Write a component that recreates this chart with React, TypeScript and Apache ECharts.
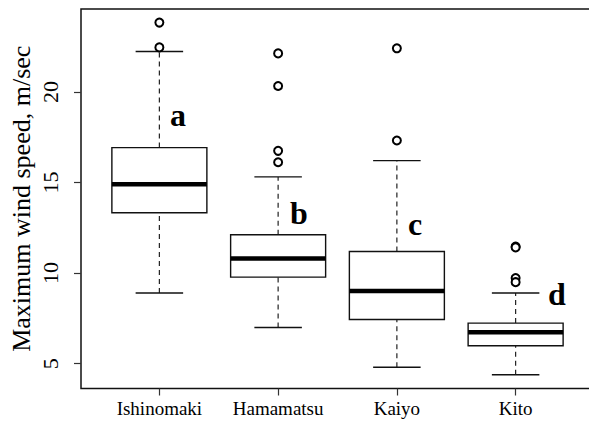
import React, { useEffect, useRef } from "react";
import * as echarts from "echarts";

const categories = ["Ishinomaki", "Hamamatsu", "Kaiyo", "Kito"];
const lowerWhisker = [8.9, 7.0, 4.8, 4.39];
const q1 = [13.33, 9.78, 7.44, 5.99];
const median = [14.91, 10.81, 9.01, 6.73];
const q3 = [16.93, 12.12, 11.19, 7.24];
const upperWhisker = [22.23, 15.31, 16.21, 8.9];
const outliers: [number, number][] = [
  [1, 23.83], [1, 22.46],
  [2, 22.13], [2, 20.33], [2, 16.75], [2, 16.12],
  [3, 22.41], [3, 17.32],
  [4, 11.47], [4, 11.42], [4, 9.73], [4, 9.5],
];
const letters: [number, number, string][] = [
  [1.157, 18.73, "a"],
  [2.174, 13.33, "b"],
  [3.154, 12.72, "c"],
  [4.348, 8.86, "d"],
];
const yTicks = [5, 10, 15, 20];
const xTicks = [1, 2, 3, 4];

const FONT = "Liberation Serif";
const BOX_WIDTH = 0.8;

export default function App() {
  const ref = useRef<HTMLDivElement>(null);
  useEffect(() => {
    if (!ref.current) return;
    const chart = echarts.init(ref.current, null, { renderer: "svg" });
    const boxData = categories.map((_, i) => [
      i + 1, lowerWhisker[i], q1[i], median[i], q3[i], upperWhisker[i],
    ]);
    chart.setOption({
      animation: false,
      backgroundColor: "#fff",
      textStyle: { fontFamily: FONT, color: "#000" },
      grid: {
        left: 81, top: 9, width: 513, height: 379.5,
        containLabel: false,
        outerBoundsMode: "none",
        show: true, borderColor: "#111", borderWidth: 1.5,
        backgroundColor: "transparent",
      },
      xAxis: {
        type: "value",
        min: 0.34,
        max: 4.66,
        splitLine: { show: false },
        axisLine: { show: false },
        axisTick: { show: true, length: 7, customValues: xTicks, lineStyle: { color: "#333", width: 1.2 } },
        axisLabel: {
          customValues: xTicks,
          formatter: (v: number) => "{s|" + (categories[Math.round(v) - 1] ?? "") + "}",
          rich: { s: { fontFamily: FONT, fontSize: 19, color: "#000" } },
          fontFamily: FONT, fontSize: 19, color: "#000", margin: 10,
        },
      },
      yAxis: {
        type: "value",
        min: 3.63,
        max: 24.58,
        name: "Maximum wind speed, m/sec",
        nameLocation: "middle",
        nameGap: 47,
        nameMoveOverlap: false,
        nameRotate: 90,
        nameTextStyle: { fontFamily: FONT, fontSize: 26, color: "#000" },
        splitLine: { show: false },
        axisLine: { show: false },
        axisTick: { show: true, length: 7, customValues: yTicks, lineStyle: { color: "#333", width: 1.2 } },
        axisLabel: {
          customValues: yTicks,
          rotate: 90,
          formatter: (v: number) => "{s|" + v + "}",
          rich: { s: { fontFamily: FONT, fontSize: 22, color: "#000" } },
          fontFamily: FONT, fontSize: 22, color: "#000", margin: 20,
        },
      },
      series: [
        {
          type: "custom",
          data: boxData,
          encode: { x: 0, y: [1, 2, 3, 4, 5] },
          renderItem: (_params: any, api: any) => {
            const x = api.value(0);
            const lo = api.coord([x, api.value(1)]);
            const b1 = api.coord([x, api.value(2)]);
            const md = api.coord([x, api.value(3)]);
            const b3 = api.coord([x, api.value(4)]);
            const hi = api.coord([x, api.value(5)]);
            const bw = api.size([BOX_WIDTH, 0])[0];
            const cx = lo[0];
            const cap = bw / 4;
            const dash = { stroke: "#222", lineWidth: 1.2, lineDash: [5, 4] };
            const solid = { stroke: "#111", lineWidth: 1.4 };
            return {
              type: "group",
              children: [
                { type: "line", shape: { x1: cx, y1: b3[1], x2: cx, y2: hi[1] }, style: dash },
                { type: "line", shape: { x1: cx, y1: lo[1], x2: cx, y2: b1[1] }, style: dash },
                { type: "line", shape: { x1: cx - cap, y1: hi[1], x2: cx + cap, y2: hi[1] }, style: solid },
                { type: "line", shape: { x1: cx - cap, y1: lo[1], x2: cx + cap, y2: lo[1] }, style: solid },
                {
                  type: "rect",
                  shape: { x: cx - bw / 2, y: b3[1], width: bw, height: b1[1] - b3[1] },
                  style: { fill: "#fff", stroke: "#111", lineWidth: 1.4 },
                },
                {
                  type: "line",
                  shape: { x1: cx - bw / 2, y1: md[1], x2: cx + bw / 2, y2: md[1] },
                  style: { stroke: "#000", lineWidth: 4.5 },
                },
              ],
            };
          },
        },
        {
          type: "scatter",
          data: outliers,
          symbol: "emptyCircle",
          symbolSize: 8,
          itemStyle: { color: "#000", borderWidth: 1.5, opacity: 1 },
        },
        {
          type: "scatter",
          data: letters,
          symbolSize: 1,
          itemStyle: { color: "rgba(0,0,0,0)", opacity: 1 },
          label: {
            show: true,
            position: "inside",
            formatter: (p: any) => p.value[2],
            fontFamily: FONT,
            fontSize: 32,
            fontWeight: "bold",
            color: "#000",
            opacity: 1,
          },
        },
      ],
    });
    return () => chart.dispose();
  }, []);
  return (
    <div
      ref={ref}
      style={{ position: "absolute", left: 0, top: 0, width: 589, height: 430 }}
    />
  );
}
